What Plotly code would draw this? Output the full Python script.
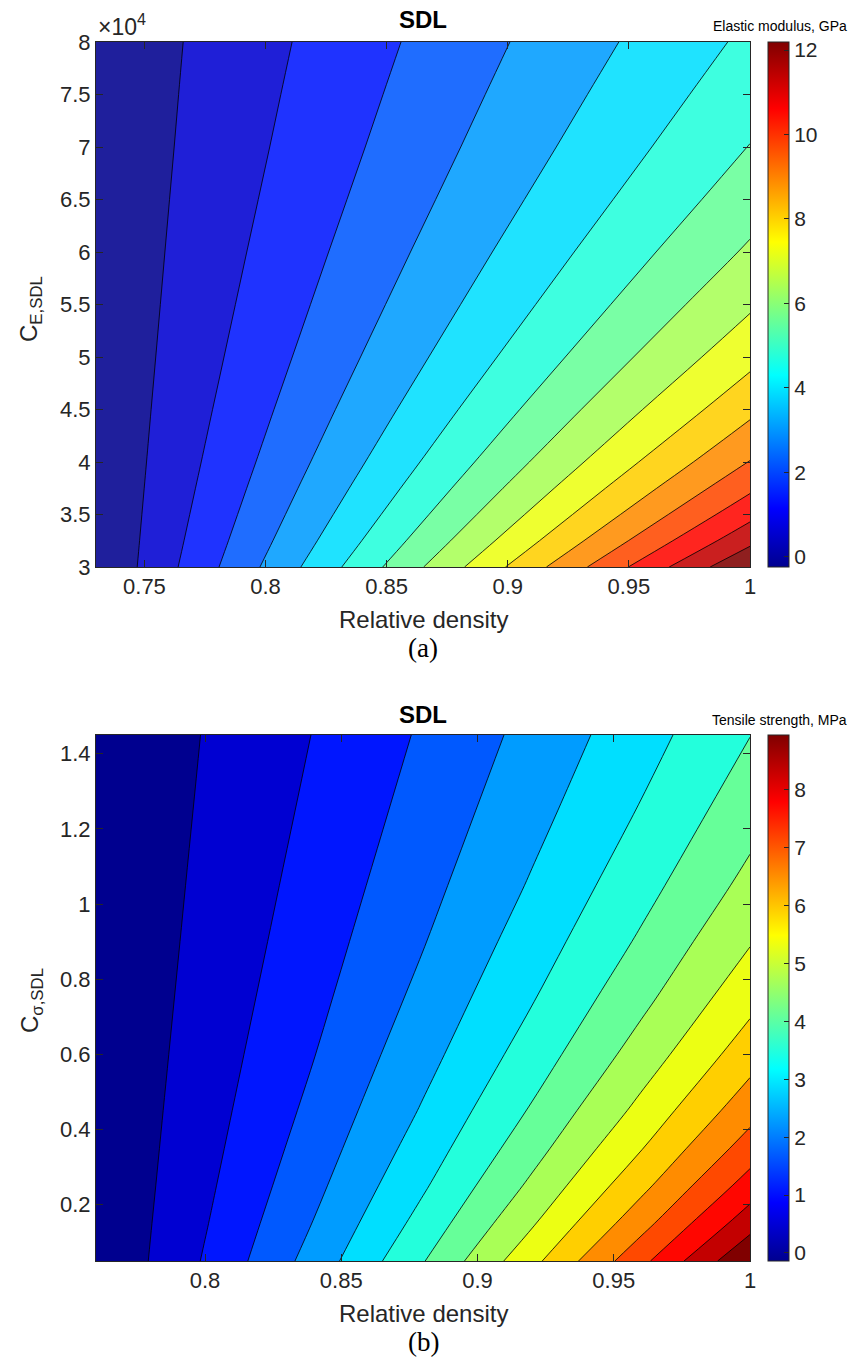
import plotly.graph_objects as go

# ---------------- data ----------------
# Panel (a): elastic modulus (GPa) vs relative density and C_E,SDL
rel_density_a = [0.73, 1.00]
c_e_sdl = [30000, 32500, 35000, 37500, 40000, 45000, 50000, 55000, 60000, 65000, 70000, 75000, 80000]
elastic_modulus = [
    [-0.245, 12.17],
    [-0.225, 11.21],
    [-0.208, 10.41],
    [-0.194, 9.72],
    [-0.181, 9.11],
    [-0.160, 8.11],
    [-0.143, 7.30],
    [-0.129, 6.64],
    [-0.117, 6.09],
    [-0.107, 5.62],
    [-0.099, 5.22],
    [-0.091, 4.88],
    [-0.085, 4.58],
]
e_min, e_max = -0.24, 12.19

# Panel (b): tensile strength (MPa) vs relative density and C_sigma,SDL
rel_density_b = [0.76, 0.80, 0.84, 0.88, 0.92, 0.96, 1.00]
c_sigma_sdl = [0.05, 0.15, 0.25, 0.35, 0.45, 0.60, 0.75, 0.90, 1.05, 1.25, 1.45]
tensile_strength = [
    [-0.143, 1.048, 2.362, 3.805, 5.381, 7.086, 8.929],
    [-0.130, 0.957, 2.157, 3.474, 4.913, 6.470, 8.152],
    [-0.120, 0.880, 1.984, 3.196, 4.520, 5.952, 7.500],
    [-0.111, 0.815, 1.837, 2.959, 4.185, 5.511, 6.944],
    [-0.103, 0.759, 1.710, 2.755, 3.897, 5.131, 6.466],
    [-0.094, 0.688, 1.550, 2.497, 3.531, 4.650, 5.859],
    [-0.086, 0.629, 1.417, 2.283, 3.229, 4.251, 5.357],
    [-0.079, 0.579, 1.305, 2.103, 2.974, 3.916, 4.934],
    [-0.073, 0.537, 1.210, 1.949, 2.756, 3.629, 4.573],
    [-0.067, 0.489, 1.102, 1.776, 2.511, 3.307, 4.167],
    [-0.061, 0.449, 1.012, 1.631, 2.306, 3.037, 3.827],
]
t_min, t_max = -0.14, 8.95

n_levels = 15

# tick labels
xticks_a = [0.75, 0.80, 0.85, 0.90, 0.95, 1.00]
xticktext_a = ["0.75", "0.8", "0.85", "0.9", "0.95", "1"]
yticks_a = [30000, 35000, 40000, 45000, 50000, 55000, 60000, 65000, 70000, 75000, 80000]
yticktext_a = ["3", "3.5", "4", "4.5", "5", "5.5", "6", "6.5", "7", "7.5", "8"]
cbticks_a = [0, 2, 4, 6, 8, 10, 12]

xticks_b = [0.80, 0.85, 0.90, 0.95, 1.00]
xticktext_b = ["0.8", "0.85", "0.9", "0.95", "1"]
yticks_b = [0.2, 0.4, 0.6, 0.8, 1.0, 1.2, 1.4]
yticktext_b = ["0.2", "0.4", "0.6", "0.8", "1", "1.2", "1.4"]
cbticks_b = [0, 1, 2, 3, 4, 5, 6, 7, 8]

# ---------------- styling ----------------
W, H = 854, 1358
def fx(px):
    return px / W
def fy(py):
    return 1 - py / H

FONT = "Liberation Sans, Arial, Helvetica, sans-serif"
SERIF = "Liberation Serif, Times New Roman, serif"
GRAY = "#262626"

jet_stops = [(0.0, (0, 0, 143)), (7 / 63, (0, 0, 255)), (23 / 63, (0, 255, 255)),
             (39 / 63, (255, 255, 0)), (55 / 63, (255, 0, 0)), (1.0, (128, 0, 0))]

def scale(stops, white=0.0):
    out = []
    for p, (r, g, b) in stops:
        r2 = round(r * (1 - white) + 255 * white)
        g2 = round(g * (1 - white) + 255 * white)
        b2 = round(b * (1 - white) + 255 * white)
        out.append([p, f"rgb({r2},{g2},{b2})"])
    return out

jet = scale(jet_stops)
jet_light = scale(jet_stops, 0.12)

def levels(lo, hi, n):
    step = (hi - lo) / (n + 1)
    start = lo + step
    return dict(start=start, end=start + (n - 0.5) * step, size=step,
                coloring="fill", showlines=True)

def colorbar(top_px, bottom_px, ticks):
    return dict(
        x=fx(768), xanchor="left", y=fy(top_px), yanchor="top",
        len=bottom_px - top_px, lenmode="pixels",
        thickness=21, thicknessmode="pixels", xpad=0, ypad=0,
        outlinewidth=1, outlinecolor=GRAY,
        ticks="inside", ticklen=5, tickcolor=GRAY, tickwidth=1,
        tickvals=ticks, tickfont=dict(family=FONT, size=21, color=GRAY),
    )

fig = go.Figure()

# panel (a)
fig.add_trace(go.Heatmap(
    x=rel_density_a, y=c_e_sdl, z=elastic_modulus, zmin=e_min, zmax=e_max,
    colorscale=jet, showscale=True, colorbar=colorbar(42, 567, cbticks_a),
    hoverinfo="skip", xaxis="x", yaxis="y"))
fig.add_trace(go.Contour(
    x=rel_density_a, y=c_e_sdl, z=elastic_modulus,
    colorscale=jet_light, showscale=False,
    contours=levels(e_min, e_max, n_levels),
    line=dict(color="black", width=0.8), xaxis="x", yaxis="y"))

# panel (b)
fig.add_trace(go.Heatmap(
    x=rel_density_b, y=c_sigma_sdl, z=tensile_strength, zmin=t_min, zmax=t_max,
    colorscale=jet, showscale=True, colorbar=colorbar(735, 1261, cbticks_b),
    hoverinfo="skip", xaxis="x2", yaxis="y2"))
fig.add_trace(go.Contour(
    x=rel_density_b, y=c_sigma_sdl, z=tensile_strength,
    colorscale=jet, showscale=False,
    contours=levels(t_min, t_max, n_levels),
    line=dict(color="black", width=0.8), xaxis="x2", yaxis="y2"))

axis_common = dict(
    ticks="inside", ticklen=7, tickwidth=1, tickcolor=GRAY,
    showline=True, linecolor=GRAY, linewidth=1, mirror="ticks",
    showgrid=False, zeroline=False, automargin=False,
    tickfont=dict(family=FONT, size=22, color=GRAY),
)

fig.update_layout(
    width=W, height=H,
    margin=dict(l=0, r=0, t=0, b=0, pad=0, autoexpand=False),
    paper_bgcolor="white", plot_bgcolor="white",
    showlegend=False,
    xaxis=dict(domain=[fx(96), fx(750)], range=[0.73, 1.0], anchor="y",
               tickvals=xticks_a, ticktext=xticktext_a, **axis_common),
    yaxis=dict(domain=[fy(567), fy(42)], range=[30000, 80000], anchor="x",
               tickvals=yticks_a, ticktext=yticktext_a, **axis_common),
    xaxis2=dict(domain=[fx(96), fx(750)], range=[0.76, 1.0], anchor="y2",
                tickvals=xticks_b, ticktext=xticktext_b, **axis_common),
    yaxis2=dict(domain=[fy(1261), fy(735)], range=[0.05, 1.45], anchor="x2",
                tickvals=yticks_b, ticktext=yticktext_b, **axis_common),
)

def note(text, x, y, size, family=FONT, color=GRAY, angle=0, xanchor="center", yanchor="middle"):
    fig.add_annotation(text=text, x=fx(x), y=fy(y), xref="paper", yref="paper",
                       showarrow=False, textangle=angle, xanchor=xanchor, yanchor=yanchor,
                       font=dict(family=family, size=size, color=color))

# panel (a) texts
note("<b>SDL</b>", 423, 20, 24, color="black")
note("×10<sup>4</sup>", 96, 25, 23, xanchor="left")
note("Elastic modulus, GPa", 849, 26, 14, color="black", xanchor="right")
note("Relative density", 423, 620, 24)
note("(a)", 423, 648, 27, family=SERIF, color="black")
note("C<sub>E,SDL</sub>", 31, 309, 24, angle=-90)

# panel (b) texts
note("<b>SDL</b>", 423, 714, 24, color="black")
note("Tensile strength, MPa", 849, 720, 14, color="black", xanchor="right")
note("Relative density", 423, 1313, 24)
note("(b)", 423, 1342, 27, family=SERIF, color="black")
note("C<sub>σ,SDL</sub>", 31, 1001, 24, angle=-90)

fig.write_html(
    "out.html",
    config={"displayModeBar": False, "staticPlot": True},
    post_script="document.body.style.margin='0';document.body.style.overflow='hidden';",
)
